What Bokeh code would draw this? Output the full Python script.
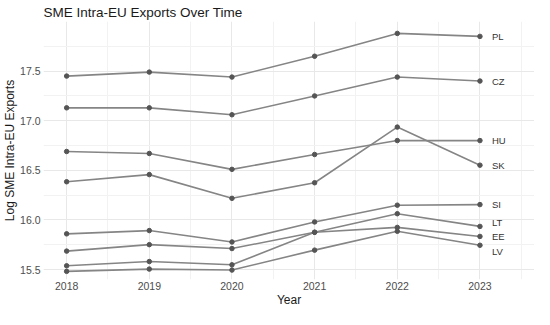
from bokeh.plotting import figure
from bokeh.models import FixedTicker, ColumnDataSource, Range1d
from bokeh.core.properties import value
from bokeh.embed import file_html
from bokeh.resources import INLINE

years = [2018, 2019, 2020, 2021, 2022, 2023]
countries = ["PL", "CZ", "HU", "SK", "SI", "LT", "EE", "LV"]
PL = [17.45, 17.49, 17.44, 17.65, 17.88, 17.85]
CZ = [17.13, 17.13, 17.06, 17.25, 17.44, 17.40]
HU = [16.69, 16.67, 16.51, 16.66, 16.80, 16.80]
SK = [16.385, 16.457, 16.218, 16.375, 16.936, 16.552]
SI = [15.86, 15.893, 15.778, 15.98, 16.149, 16.155]
LT = [15.686, 15.751, 15.712, 15.876, 16.063, 15.935]
EE = [15.538, 15.581, 15.548, 15.876, 15.925, 15.834]
LV = [15.482, 15.505, 15.495, 15.696, 15.886, 15.745]
series = [PL, CZ, HU, SK, SI, LT, EE, LV]
y_ticks = [15.5, 16.0, 16.5, 17.0, 17.5]
y_minor = [15.75, 16.25, 16.75, 17.25, 17.75]
x_minor = [2018.5, 2019.5, 2020.5, 2021.5, 2022.5, 2023.5]

FONT = "Liberation Sans"
LINE = "#858585"
PT = "#555555"

p = figure(width=534, height=309, output_backend="svg", toolbar_location=None,
           title="SME Intra-EU Exports Over Time",
           x_range=Range1d(2017.72, 2023.66), y_range=Range1d(15.40, 18.0),
           min_border_left=0, min_border_right=0, min_border_top=0, min_border_bottom=0)
p.outline_line_color = None
p.background_fill_color = "white"
p.border_fill_color = "white"

p.title.text_font = FONT
p.title.text_font_size = "13.5px"
p.title.text_font_style = "normal"
p.title.text_color = "#1a1a1a"
p.title.offset = 0
p.title.standoff = 4

for ax in (p.xaxis[0], p.yaxis[0]):
    ax.axis_line_color = None
    ax.major_tick_line_color = None
    ax.minor_tick_line_color = None
    ax.major_tick_out = 0
    ax.minor_tick_out = 0
    ax.major_tick_in = 0
    ax.minor_tick_in = 0
    ax.major_label_text_font = FONT
    ax.major_label_text_font_size = "10.5px"
    ax.major_label_text_color = "#4d4d4d"
    ax.major_label_text_line_height = 1.0
    ax.axis_label_text_font = FONT
    ax.axis_label_text_font_size = "12px"
    ax.axis_label_text_font_style = "normal"
    ax.axis_label_text_color = "#1a1a1a"
    ax.axis_label_text_line_height = 1.0

p.xaxis.ticker = FixedTicker(ticks=years, minor_ticks=x_minor)
p.yaxis.ticker = FixedTicker(ticks=y_ticks, minor_ticks=y_minor)
p.yaxis.major_label_overrides = {t: f"{t:.1f}" for t in y_ticks}
p.xaxis.axis_label = "Year"
p.yaxis.axis_label = "Log SME Intra-EU Exports"
p.xaxis.major_label_standoff = 2
p.xaxis.axis_label_standoff = 0
p.yaxis.major_label_standoff = 3
p.yaxis.axis_label_standoff = 0

p.xgrid.grid_line_color = "#e8e8e8"
p.ygrid.grid_line_color = "#e8e8e8"
p.xgrid.minor_grid_line_color = "#f2f2f2"
p.ygrid.minor_grid_line_color = "#f2f2f2"

for vals in series:
    p.line(years, vals, line_color=LINE, line_width=1.6)
for vals in series:
    p.scatter(years, vals, size=4.5, fill_color=PT, line_color=PT)

label_nudge = {"LT": -4, "LV": 6}
for name, vals in zip(countries, series):
    src = ColumnDataSource(dict(x=[years[-1]], y=[vals[-1]], t=[name]))
    p.text("x", "y", text="t", source=src, x_offset=12, y_offset=label_nudge.get(name, 0),
           text_font=value(FONT), text_font_size="9.5px", text_color="#333333",
           text_baseline="middle", text_align="left")

open("out.html", "w").write(file_html(p, INLINE))
